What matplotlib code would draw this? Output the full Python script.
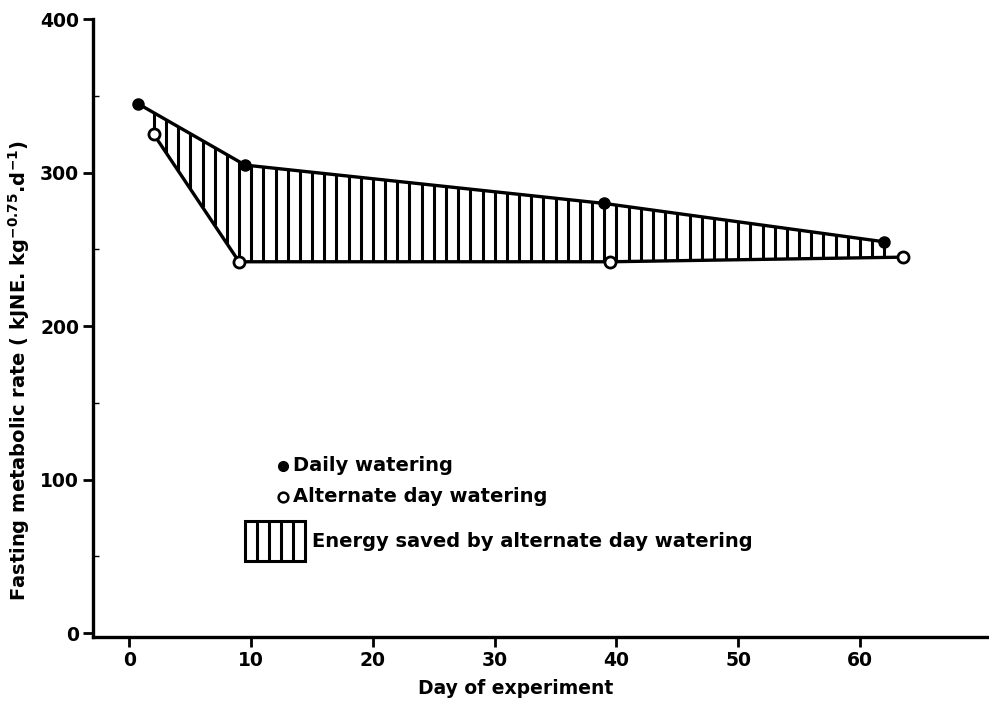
import numpy as np
import matplotlib.pyplot as plt
from matplotlib.patches import Rectangle

# Fasting metabolic rate (kJNE kg^-0.75 d^-1) against day of experiment
daily_day = [0.7, 9.5, 39.0, 62.0]
daily_rate = [345, 305, 280, 255]
alt_day = [2.0, 9.0, 39.5, 63.5]
alt_rate = [325, 242, 242, 245]

x_ticks = [0, 10, 20, 30, 40, 50, 60]
x_tick_labels = ['0', '10', '20', '30', '40', '50', '60']
y_ticks = [0, 100, 200, 300, 400]

plt.rcParams['font.family'] = ['DejaVu Sans']
plt.rcParams['font.weight'] = 'bold'
plt.rcParams['axes.labelweight'] = 'bold'
plt.rcParams['mathtext.default'] = 'bf'

fig = plt.figure(figsize=(9.89, 7.04), dpi=100)
ax = fig.add_axes([0.094, 0.095, 0.906, 0.879])

# shaded region between the two series: vertical strokes one day apart
d = np.arange(alt_day[0], daily_day[-1] + 0.01, 1.0)
top = np.interp(d, daily_day, daily_rate)
bottom = np.interp(d, alt_day, alt_rate)
ax.vlines(d, bottom, top, color='black', linewidth=2.2)

ax.plot(daily_day, daily_rate, color='black', linewidth=2.4, zorder=3)
ax.plot(alt_day, alt_rate, color='black', linewidth=2.4, zorder=3)
ax.plot(daily_day, daily_rate, 'o', color='black', markersize=8, zorder=4)
ax.plot(alt_day, alt_rate, 'o', markerfacecolor='white', markeredgecolor='black',
        markeredgewidth=2, markersize=8, zorder=4)

# hand-drawn key inside the plot
key_fs = 14
ax.plot([12.6], [109], 'o', color='black', markersize=7)
ax.text(13.4, 109, 'Daily watering', fontsize=key_fs, va='center')
ax.plot([12.6], [89], 'o', markerfacecolor='white', markeredgecolor='black',
        markeredgewidth=1.8, markersize=7)
ax.text(13.4, 89, 'Alternate day watering', fontsize=key_fs, va='center')
ax.add_patch(Rectangle((9.5, 47), 4.9, 26, fill=False, edgecolor='black', linewidth=2.2))
ax.vlines(np.linspace(9.5, 14.4, 6)[1:-1], 47, 73, color='black', linewidth=2.2)
ax.text(15.0, 60, 'Energy saved by alternate day watering', fontsize=key_fs, va='center')

ax.set_xlim(-3, 70.6)
ax.set_ylim(-2.6, 400.65)
ax.spines['top'].set_visible(False)
ax.spines['right'].set_visible(False)
ax.spines['left'].set_linewidth(2.4)
ax.spines['bottom'].set_linewidth(2.4)
ax.spines['left'].set_bounds(-2.6, 400)

ax.set_xticks(x_ticks)
ax.set_xticklabels(x_tick_labels)
ax.set_yticks(y_ticks)
ax.tick_params(axis='both', direction='out', length=7, width=2, labelsize=13.5, pad=3)
ax.set_yticks([50, 150, 250, 350], minor=True)
ax.tick_params(axis='y', which='minor', direction='in', length=4, width=1)

ax.set_xlabel('Day of experiment', fontsize=13.5)
ax.xaxis.set_label_coords(0.472, -0.068)
ax.set_ylabel(r'Fasting metabolic rate ( kJNE. kg$^{-0.75}$.d$^{-1}$)', fontsize=14)
ax.yaxis.set_label_coords(-0.068, 0.431)

fig.savefig('out.png', dpi=100)
